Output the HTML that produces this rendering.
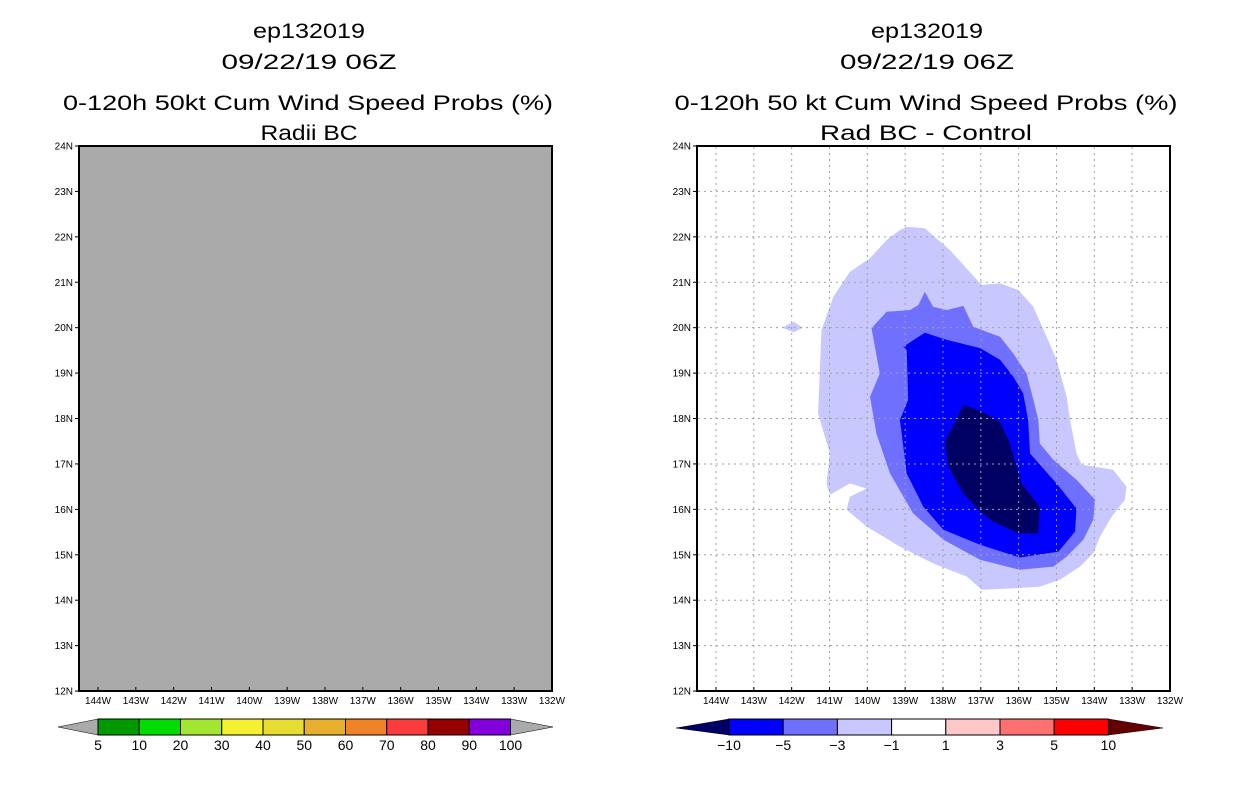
<!DOCTYPE html>
<html><head><meta charset="utf-8"><style>
html,body{margin:0;padding:0;background:#fff;}
svg{display:block;font-family:"Liberation Sans",sans-serif;}
</style></head><body>
<svg id="fig" width="1236" height="800" viewBox="0 0 1236 800" xmlns="http://www.w3.org/2000/svg">
<g id="left">
 <text x="309" y="38" font-size="21" text-anchor="middle" textLength="112" lengthAdjust="spacingAndGlyphs">ep132019</text>
 <text x="309" y="69" font-size="21" text-anchor="middle" textLength="175" lengthAdjust="spacingAndGlyphs">09/22/19 06Z</text>
 <text x="308" y="110" font-size="21" text-anchor="middle" textLength="490" lengthAdjust="spacingAndGlyphs">0-120h 50kt Cum Wind Speed Probs (%)</text>
 <text x="309" y="140" font-size="21" text-anchor="middle" textLength="97" lengthAdjust="spacingAndGlyphs">Radii BC</text>
 <rect x="79" y="146" width="473" height="545" fill="#aaaaaa"/>
</g>
<g id="right">
 <text x="927" y="38" font-size="21" text-anchor="middle" textLength="112" lengthAdjust="spacingAndGlyphs">ep132019</text>
 <text x="927" y="69" font-size="21" text-anchor="middle" textLength="174" lengthAdjust="spacingAndGlyphs">09/22/19 06Z</text>
 <text x="926" y="110" font-size="21" text-anchor="middle" textLength="503" lengthAdjust="spacingAndGlyphs">0-120h 50 kt Cum Wind Speed Probs (%)</text>
 <text x="926" y="140" font-size="21" text-anchor="middle" textLength="212" lengthAdjust="spacingAndGlyphs">Rad BC - Control</text>
 <rect x="697" y="146" width="473" height="545" fill="#fff"/>
 <g id="contours"></g>
 <g id="grid"></g>
</g>
<g id="axes"></g>
<g id="cbars"></g>
</svg>
<script>
const NS="http://www.w3.org/2000/svg";
const lonTicks=[144,143,142,141,140,139,138,137,136,135,134,133,132];
const latTicks=[24,23,22,21,20,19,18,17,16,15,14,13,12];
// contour polygons: [lonW, latN]
const lvlM1Outer=[[138.96,22.22],[138.48,22.19],[137.82,21.71],[136.98,20.94],[136.49,20.98],[136.01,20.83],[135.61,20.46],[135.26,19.8],[135.0,19.29],[134.73,18.48],[134.64,17.97],[134.47,17.23],[134.33,16.98],[133.5,16.87],[133.15,16.5],[133.19,16.21],[133.54,15.84],[133.85,15.4],[134.03,15.03],[134.38,14.74],[134.91,14.45],[135.44,14.3],[136.14,14.26],[136.98,14.23],[137.37,14.52],[138.26,14.81],[139.14,15.18],[140.02,15.62],[140.55,15.99],[140.46,16.28],[140.02,16.46],[140.46,16.57],[140.99,16.32],[141.08,16.57],[140.99,17.23],[141.3,18.11],[141.21,19.95],[140.9,20.68],[140.46,21.23],[139.93,21.53],[139.49,21.93],[139.14,22.15]];
const lvlM1Blob=[[142.25,20.0],[141.95,20.13],[141.7,20.0],[141.95,19.9]];
const lvlM3=[[138.48,20.79],[138.26,20.46],[137.9,20.39],[137.46,20.48],[137.2,20.02],[136.49,19.8],[136.14,19.43],[135.79,18.99],[135.61,18.41],[135.48,17.97],[135.44,17.45],[135.08,17.09],[134.47,16.65],[133.98,16.21],[134.03,15.77],[134.29,15.33],[134.73,14.96],[135.08,14.74],[135.97,14.67],[137.02,14.89],[137.99,15.33],[138.79,15.91],[139.4,16.79],[139.76,17.67],[139.93,18.48],[139.67,18.99],[139.89,19.99],[139.49,20.35],[138.87,20.39],[138.65,20.5]];
const lvlM5=[[138.48,19.89],[137.9,19.73],[137.02,19.55],[136.49,19.29],[136.14,18.92],[135.88,18.55],[135.75,17.97],[135.7,17.23],[135.0,16.57],[134.47,16.02],[134.51,15.51],[134.95,15.07],[135.97,14.94],[137.02,15.22],[137.99,15.55],[138.52,16.06],[138.96,16.79],[139.14,17.97],[138.92,18.41],[138.96,19.51],[139.05,19.58]];
const lvlM10=[[137.46,18.3],[137.02,18.17],[136.49,17.93],[136.23,17.45],[135.92,16.57],[135.44,16.06],[135.48,15.47],[136.01,15.47],[136.67,15.73],[137.02,15.95],[137.46,16.35],[137.86,16.94],[137.95,17.49]];
const probLabels=["5","10","20","30","40","50","60","70","80","90","100"];
const probColors=["#009a00","#00dc00","#a2e632","#f5f032","#e6dc32","#e6af2d","#f08228","#fa3c3c","#960000","#8200dc"];
const diffLabels=["-10","-5","-3","-1","1","3","5","10"];
const diffColors=["#0000ff","#7070ff","#c8c8ff","#ffffff","#ffc8c8","#ff7070","#ff0000"];

const DX=37.83, DY=45.42;
const xL=lon=>98+(144-lon)*DX, xR=lon=>716+(144-lon)*DX, yy=lat=>146+(24-lat)*DY;
const svg=document.getElementById('fig');
function mk(tag,attrs,parent){const e=document.createElementNS(NS,tag);for(const k in attrs)e.setAttribute(k,attrs[k]);parent.appendChild(e);return e;}

const cg=document.getElementById('contours');
function poly(pts,fill,name){
  const p=mk('polygon',{points:pts.map(d=>xR(d[0]).toFixed(1)+','+yy(d[1]).toFixed(1)).join(' '),fill:fill},cg);
  
  
}
poly(lvlM1Outer,"#c8c8ff","contour-minus1");
poly(lvlM1Blob,"#c8c8ff","contour-minus1-blob");
poly(lvlM3,"#7070ff","contour-minus3");
poly(lvlM5,"#0000ff","contour-minus5");
poly(lvlM10,"#000064","contour-minus10");

const gg=document.getElementById('grid');
lonTicks.forEach(l=>{const x=xR(l);if(x>698&&x<1169){const e=mk('line',{x1:x,x2:x,y1:147,y2:690,stroke:"#a0a0a0","stroke-width":1,"stroke-dasharray":"2,4"},gg);}});
latTicks.forEach(l=>{const y=yy(l);if(y>147&&y<690){const e=mk('line',{x1:698,x2:1169,y1:y,y2:y,stroke:"#a0a0a0","stroke-width":1,"stroke-dasharray":"2,4"},gg);}});

const ax=document.getElementById('axes');
[[79,xL,'left'],[697,xR,'right']].forEach(([x0,xf,side])=>{
  const fr=mk('rect',{x:x0,y:146,width:473,height:545,fill:"none",stroke:"#000","stroke-width":2},ax);
  
  
  latTicks.forEach(l=>{const y=yy(l);
    mk('line',{x1:x0-4,x2:x0,y1:y,y2:y,stroke:"#000"},ax);
    const t=mk('text',{x:x0-6,y:y+3.5,"font-size":10,"text-anchor":"end"},ax);t.textContent=l+"N";
    
    });
  lonTicks.forEach(l=>{const x=xf(l);
    mk('line',{x1:x,x2:x,y1:691,y2:687,stroke:"#000"},ax);
    const t=mk('text',{x:x,y:704,"font-size":10,"text-anchor":"middle"},ax);t.textContent=l+"W";
    
    });
});

const cb=document.getElementById('cbars');
(function(){
  const x0=98,w=41.25,y0=719,h=16;
  const tl=mk('polygon',{points:`58,727 ${x0},${y0} ${x0},${y0+h}`,fill:"#aaa",stroke:"#000","stroke-width":0.5},cb);
  
  const xe=x0+w*probColors.length;
  const tr=mk('polygon',{points:`${xe},${y0} 553,727 ${xe},${y0+h}`,fill:"#aaa",stroke:"#000","stroke-width":0.5},cb);
  
  probColors.forEach((c,i)=>{const r=mk('rect',{x:x0+i*w,y:y0,width:w,height:h,fill:c,stroke:"#000","stroke-width":1},cb);
    });
  probLabels.forEach((s,i)=>{const t=mk('text',{x:x0+i*w,y:750,"font-size":14,"text-anchor":"middle"},cb);t.textContent=s;
    });
})();
(function(){
  const x0=729,w=54.2,y0=719,h=16;
  const tl=mk('polygon',{points:`676,728 ${x0},${y0} ${x0},${y0+h}`,fill:"#000064",stroke:"#000","stroke-width":0.5},cb);
  
  const xe=x0+w*diffColors.length;
  const tr=mk('polygon',{points:`${xe},${y0} 1163,728 ${xe},${y0+h}`,fill:"#640000",stroke:"#000","stroke-width":0.5},cb);
  
  diffColors.forEach((c,i)=>{const r=mk('rect',{x:x0+i*w,y:y0,width:w,height:h,fill:c,stroke:"#000","stroke-width":1},cb);
    });
  diffLabels.forEach((s,i)=>{const t=mk('text',{x:x0+i*w,y:750,"font-size":14,"text-anchor":"middle"},cb);t.textContent=s.replace('-','\u2212');
    });
})();
</script>
</body></html>
